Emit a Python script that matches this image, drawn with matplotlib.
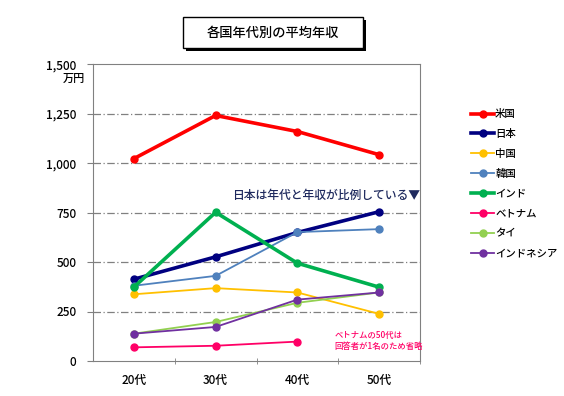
import matplotlib
matplotlib.use('Agg')
import matplotlib.pyplot as plt
from matplotlib.patches import Rectangle
import numpy as np

plt.rcParams['font.family'] = ['Noto Sans CJK JP', 'DejaVu Sans']
plt.rcParams['font.weight'] = 'medium'

# data (万円)
ages = ['20代', '30代', '40代', '50代']
countries = ['米国', '日本', '中国', '韓国', 'インド', 'ベトナム', 'タイ', 'インドネシア']
usa = [1022, 1240, 1159, 1042]
japan = [413, 526, 649, 754]
china = [337, 368, 346, 238]
korea = [380, 430, 651, 666]
india = [373, 751, 494, 373]
vietnam = [69, 77, 98]
thai = [138, 197, 294, 346]
indonesia = [138, 172, 310, 346]
yticks = [0, 250, 500, 750, 1000, 1250, 1500]
ytick_labels = ['0', '250', '500', '750', '1,000', '1,250', '1,500']

series = [usa, japan, china, korea, india, vietnam, thai, indonesia]
colors = ['#FF0000', '#000080', '#FFC000', '#4F81BD', '#00B050', '#FF0066', '#92D050', '#7030A0']
widths = [2.6, 2.6, 1.3, 1.3, 2.6, 1.3, 1.3, 1.3]

W, H = 564, 396
fig = plt.figure(figsize=(W/100, H/100), dpi=100)
ax = fig.add_axes([93/W, 1-361/H, 327/W, 297/H])

x = np.arange(len(ages))
for vals, c, lw, name in zip(series, colors, widths, countries):
    ax.plot(x[:len(vals)], vals, color=c, lw=lw, marker='o', ms=5, label=name)

ax.set_xlim(-0.5, 3.5)
ax.set_ylim(0, 1500)
ax.set_yticks(yticks)
ax.set_yticklabels(ytick_labels, fontsize=8.5)
ax.set_xticks(x)
ax.set_xticklabels(ages, fontsize=8.5)
ax.tick_params(axis='x', length=0, pad=9)
ax.tick_params(axis='y', length=4, color='#808080', pad=8)
ax.set_xticks([0.5, 1.5, 2.5, 3.5], minor=True)
ax.tick_params(axis='x', which='minor', length=5, color='#808080', direction='inout')
fig.text(85/W, 1-79/H, '万円', fontsize=8, ha='right', va='center')

for y in [250, 500, 750, 1000, 1250]:
    ax.axhline(y, color='#808080', lw=0.9, ls=(0, (6, 2, 1, 2)), zorder=0)
for s in ax.spines.values():
    s.set_color('#808080')

ax.text(1.2, 835, '日本は年代と年収が比例している▼', fontsize=8.5, color='#1F2A5E', va='center')
ax.text(2.45, 150, 'ベトナムの50代は\n回答者が1名のため省略', fontsize=6,
        color='#FF0066', va='top', linespacing=1.3)

leg = ax.legend(loc='upper left', bbox_to_anchor=(467/W, 1-105/H), bbox_transform=fig.transFigure,
                frameon=False, fontsize=7.5, handlelength=2.2, handletextpad=0.1,
                labelspacing=0.95, borderaxespad=0)

# title box with shadow
fig.patches.append(Rectangle((186/W, 1-51/H), 180/W, 31/H, transform=fig.transFigure,
                             facecolor='black', edgecolor='none', zorder=1))
fig.patches.append(Rectangle((183/W, 1-48/H), 180/W, 31/H, transform=fig.transFigure,
                             facecolor='white', edgecolor='black', lw=1.0, zorder=2))
fig.text(273/W, 1-33/H, '各国年代別の平均年収', fontsize=9.5, ha='center', va='center', zorder=3)

fig.savefig('out.png', dpi=100)
